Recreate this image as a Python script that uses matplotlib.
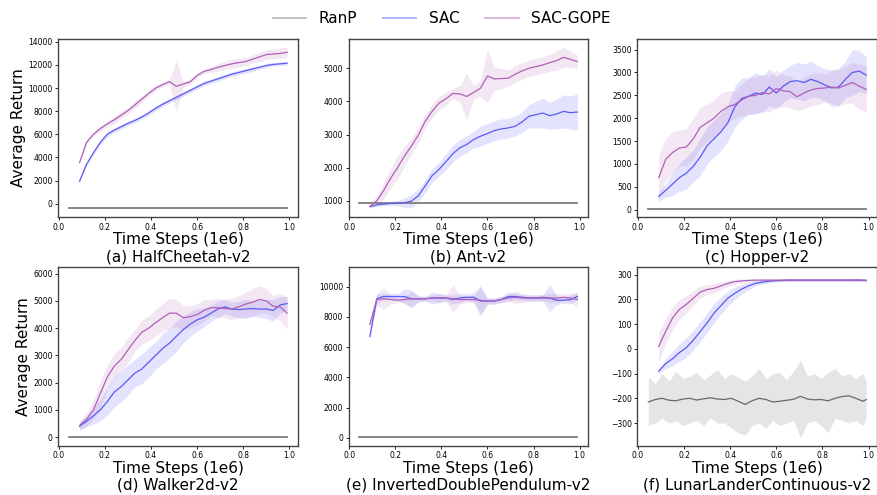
import numpy as np
import matplotlib
matplotlib.use('Agg')
import matplotlib.pyplot as plt
from matplotlib.lines import Line2D

# x grid (1e6 steps) shared by SAC and SAC-GOPE curves
steps = [0.09, 0.12, 0.15, 0.18, 0.21, 0.24, 0.27, 0.30, 0.33, 0.36, 0.39,
         0.42, 0.45, 0.48, 0.51, 0.54, 0.57, 0.60, 0.63, 0.66, 0.69, 0.72,
         0.75, 0.78, 0.81, 0.84, 0.87, 0.90, 0.93, 0.96, 0.99]
ranp_span = [0.045, 0.99]
ranp_steps = [0.045, 0.075, 0.105, 0.135, 0.165, 0.195, 0.225, 0.255, 0.285,
              0.315, 0.345, 0.375, 0.405, 0.435, 0.465, 0.495, 0.525, 0.555,
              0.585, 0.615, 0.645, 0.675, 0.705, 0.735, 0.765, 0.795, 0.825,
              0.855, 0.885, 0.915, 0.945, 0.975, 0.99]

titles = ['(a) HalfCheetah-v2', '(b) Ant-v2', '(c) Hopper-v2',
          '(d) Walker2d-v2', '(e) InvertedDoublePendulum-v2',
          '(f) LunarLanderContinuous-v2']

# RanP levels (flat) for panels a-e, and band half widths
ranp_level = [-380, 930, 20, 10, 80]
ranp_sd = [60, 15, 8, 8, 10]

# (f) RanP is noisy
ranp_f = [-215, -205, -200, -208, -210, -203, -200, -207, -202, -198, -203,
          -205, -200, -212, -225, -210, -200, -205, -215, -212, -208, -204,
          -192, -203, -206, -205, -210, -200, -193, -190, -200, -212, -205]
ranp_f_hi = [-115, -140, -100, -130, -90, -120, -110, -95, -125, -105, -85,
             -120, -100, -115, -130, -110, -80, -120, -100, -95, -125, -90,
             -45, -110, -100, -120, -95, -80, -110, -100, -120, -100, -130]
ranp_f_lo = [-310, -300, -280, -300, -290, -310, -300, -290, -310, -280, -300,
             -300, -320, -340, -350, -310, -300, -320, -290, -310, -300, -290,
             -360, -300, -290, -310, -340, -280, -290, -300, -290, -310, -280]

sac = [
    [1950, 3400, 4400, 5300, 6000, 6350, 6650, 6950, 7200, 7500, 7850, 8250,
     8600, 8900, 9200, 9500, 9800, 10100, 10400, 10600, 10800, 11000, 11200,
     11350, 11500, 11650, 11800, 11950, 12050, 12100, 12150],
    [830, 880, 900, 920, 930, 940, 990, 1150, 1450, 1760, 1950, 2180, 2420,
     2600, 2700, 2850, 2950, 3030, 3120, 3170, 3200, 3250, 3380, 3550, 3600,
     3650, 3570, 3620, 3700, 3660, 3680],
    [290, 420, 560, 700, 800, 950, 1150, 1400, 1550, 1700, 1900, 2250, 2430,
     2480, 2550, 2520, 2680, 2550, 2700, 2800, 2820, 2780, 2850, 2800, 2730,
     2660, 2680, 2850, 3000, 3030, 2940],
    [400, 580, 780, 1000, 1300, 1650, 1850, 2100, 2350, 2500, 2750, 3000, 3250,
     3450, 3700, 3950, 4150, 4300, 4400, 4550, 4700, 4780, 4700, 4680, 4700,
     4720, 4700, 4700, 4650, 4850, 4900],
    [6700, 9200, 9350, 9350, 9350, 9350, 9200, 9200, 9200, 9250, 9250, 9250,
     9150, 9250, 9300, 9300, 9050, 9050, 9050, 9150, 9350, 9350, 9300, 9250,
     9250, 9250, 9250, 9100, 9100, 9150, 9350],
    [-90, -60, -40, -15, 5, 35, 70, 105, 145, 175, 205, 225, 242, 255, 265, 270,
     274, 276, 277, 278, 278, 278, 278, 278, 278, 278, 278, 278, 278, 278, 277],
]
sac_sd = [
    [120, 150, 180, 200, 200, 200, 200, 200, 200, 200, 200, 200, 200, 200, 200,
     200, 200, 200, 200, 200, 200, 200, 200, 200, 200, 200, 180, 180, 150, 150,
     150],
    [30, 40, 50, 60, 80, 150, 200, 200, 200, 200, 200, 250, 250, 250, 250, 250,
     300, 300, 300, 300, 300, 300, 300, 350, 400, 450, 400, 450, 500, 500, 550],
    [100, 150, 250, 300, 350, 350, 400, 400, 400, 400, 400, 450, 450, 400, 450,
     400, 400, 350, 350, 350, 400, 400, 400, 350, 350, 400, 400, 400, 500, 450,
     400],
    [150, 200, 300, 400, 500, 550, 550, 550, 500, 550, 550, 500, 550, 550, 550,
     500, 450, 400, 350, 300, 300, 250, 250, 300, 350, 300, 300, 350, 400, 300,
     250],
    [200, 300, 200, 200, 200, 500, 600, 200, 150, 400, 300, 200, 300, 300, 200,
     300, 1000, 200, 200, 200, 300, 200, 200, 200, 200, 200, 900, 300, 200, 300,
     200],
    [10, 20, 30, 35, 40, 40, 40, 40, 40, 35, 30, 25, 20, 15, 10, 8, 6, 5, 5, 5,
     5, 5, 5, 5, 5, 5, 5, 5, 5, 5, 5],
]
gope = [
    [3550, 5300, 6000, 6500, 6900, 7250, 7650, 8050, 8550, 9050, 9550, 10000,
     10300, 10550, 10150, 10350, 10550, 11100, 11450, 11600, 11800, 11950,
     12100, 12200, 12300, 12500, 12700, 12900, 12950, 13000, 13100],
    [830, 1000, 1310, 1680, 2000, 2350, 2650, 2980, 3400, 3700, 3950, 4080,
     4240, 4230, 4150, 4270, 4400, 4770, 4680, 4690, 4700, 4820, 4920, 5000,
     5050, 5100, 5170, 5230, 5330, 5270, 5200],
    [700, 1100, 1250, 1350, 1370, 1550, 1800, 1900, 2000, 2150, 2250, 2300,
     2400, 2480, 2500, 2560, 2530, 2650, 2600, 2580, 2470, 2550, 2620, 2650,
     2660, 2680, 2660, 2720, 2780, 2700, 2630],
    [430, 650, 1000, 1600, 2200, 2600, 2850, 3200, 3550, 3850, 4000, 4200, 4380,
     4550, 4550, 4380, 4420, 4500, 4650, 4750, 4750, 4720, 4700, 4780, 4880,
     4950, 5050, 5000, 4800, 4780, 4550],
    [7500, 9150, 9200, 9150, 9100, 9150, 9200, 9200, 9200, 9250, 9250, 9250,
     9200, 9150, 9150, 9150, 9100, 9050, 9050, 9150, 9250, 9300, 9250, 9250,
     9250, 9300, 9250, 9250, 9300, 9250, 9150],
    [10, 70, 125, 160, 180, 205, 230, 240, 245, 255, 265, 272, 275, 277, 278,
     278, 278, 278, 278, 278, 278, 278, 278, 278, 278, 278, 278, 278, 278, 278,
     277],
]
gope_sd = [
    [100, 150, 150, 200, 250, 300, 300, 300, 300, 300, 250, 250, 200, 250, 2200,
     250, 200, 200, 200, 250, 300, 350, 400, 350, 350, 350, 400, 400, 450, 450,
     450],
    [60, 150, 250, 300, 350, 300, 250, 250, 200, 200, 200, 200, 150, 250, 700,
     200, 250, 800, 350, 300, 250, 250, 250, 250, 250, 250, 250, 300, 300, 250,
     200],
    [500, 450, 450, 400, 400, 450, 450, 400, 400, 400, 350, 300, 350, 400, 400,
     400, 400, 400, 350, 350, 300, 350, 350, 350, 300, 350, 400, 400, 450, 500,
     500],
    [150, 250, 350, 450, 450, 450, 450, 450, 400, 450, 450, 500, 500, 550, 500,
     450, 400, 400, 400, 300, 350, 350, 400, 400, 450, 500, 500, 450, 400, 500,
     600],
    [300, 400, 700, 300, 150, 200, 500, 200, 150, 200, 300, 200, 900, 300, 200,
     200, 900, 200, 200, 200, 200, 400, 300, 200, 200, 200, 300, 300, 200, 300,
     500],
    [60, 50, 45, 40, 35, 30, 25, 20, 20, 15, 12, 10, 8, 6, 6, 5, 5, 5, 5, 5, 5,
     5, 5, 5, 5, 5, 5, 5, 8, 5, 5],
]

ylims = [(-1180, 14260), (503, 5888), (-166, 3734), (-307, 6241),
         (-511, 11300), (-391, 331)]
yticks = [range(0, 14001, 2000), range(1000, 5001, 1000), range(0, 3501, 500),
          range(0, 6001, 1000), range(0, 10001, 2000), range(-300, 301, 100)]

C_RANP = '#7f7f7f'
C_SAC = '#5a5af5'
C_GOPE = '#b060b8'

fig = plt.figure(figsize=(8.78, 4.95), dpi=100)
lefts = [0.0664, 0.397, 0.726]
bottoms = [0.561, 0.100]
ylabel_x = [-0.135, -0.115]
x = np.array(steps)

for i in range(6):
    row, col = divmod(i, 3)
    ax = fig.add_axes([lefts[col], bottoms[row], 0.273, 0.3605])

    # random policy baseline
    if i < 5:
        lvl = np.array([ranp_level[i]] * len(ranp_span))
        ax.fill_between(ranp_span, lvl - ranp_sd[i], lvl + ranp_sd[i],
                        color=C_RANP, alpha=0.2, lw=0)
        ax.plot(ranp_span, lvl, color=C_RANP, lw=1.3)
    else:
        ax.fill_between(ranp_steps, ranp_f_lo, ranp_f_hi, color=C_RANP,
                        alpha=0.2, lw=0)
        ax.plot(ranp_steps, ranp_f, color='#6a6a6a', lw=0.9)

    m, s = np.array(sac[i]), np.array(sac_sd[i])
    ax.fill_between(x, m - s, m + s, color=C_SAC, alpha=0.17, lw=0)
    ax.plot(x, m, color=C_SAC, lw=0.9)

    m, s = np.array(gope[i]), np.array(gope_sd[i])
    ax.fill_between(x, m - s, m + s, color=C_GOPE, alpha=0.15, lw=0)
    ax.plot(x, m, color=C_GOPE, lw=0.9)

    ax.set_ylim(*ylims[i])
    ax.set_yticks(list(yticks[i]))
    ax.set_xticks([0.0, 0.2, 0.4, 0.6, 0.8, 1.0])
    ax.tick_params(labelsize=5.5, length=2.5, width=0.6, pad=1.5)
    for sp in ax.spines.values():
        sp.set_color('#444444')
        sp.set_linewidth(1.0)

    ax.text(0.5, -0.127, 'Time Steps (1e6)', transform=ax.transAxes,
            ha='center', va='center', fontsize=11)
    ax.text(0.5, -0.223, titles[i], transform=ax.transAxes,
            ha='center', va='center', fontsize=11)
    if col == 0:
        ax.set_ylabel('Average Return', fontsize=11)
        ax.yaxis.set_label_coords(ylabel_x[row], 0.5)

handles = [Line2D([], [], color=C_RANP, alpha=0.5, lw=1.3),
           Line2D([], [], color=C_SAC, alpha=0.5, lw=1.3),
           Line2D([], [], color=C_GOPE, alpha=0.5, lw=1.3)]
fig.legend(handles, ['RanP', 'SAC', 'SAC-GOPE'], loc='center',
           bbox_to_anchor=(0.503, 0.962), ncol=3, frameon=False, fontsize=11,
           handlelength=2.2, columnspacing=1.7)

fig.savefig('out.png', dpi=100)
